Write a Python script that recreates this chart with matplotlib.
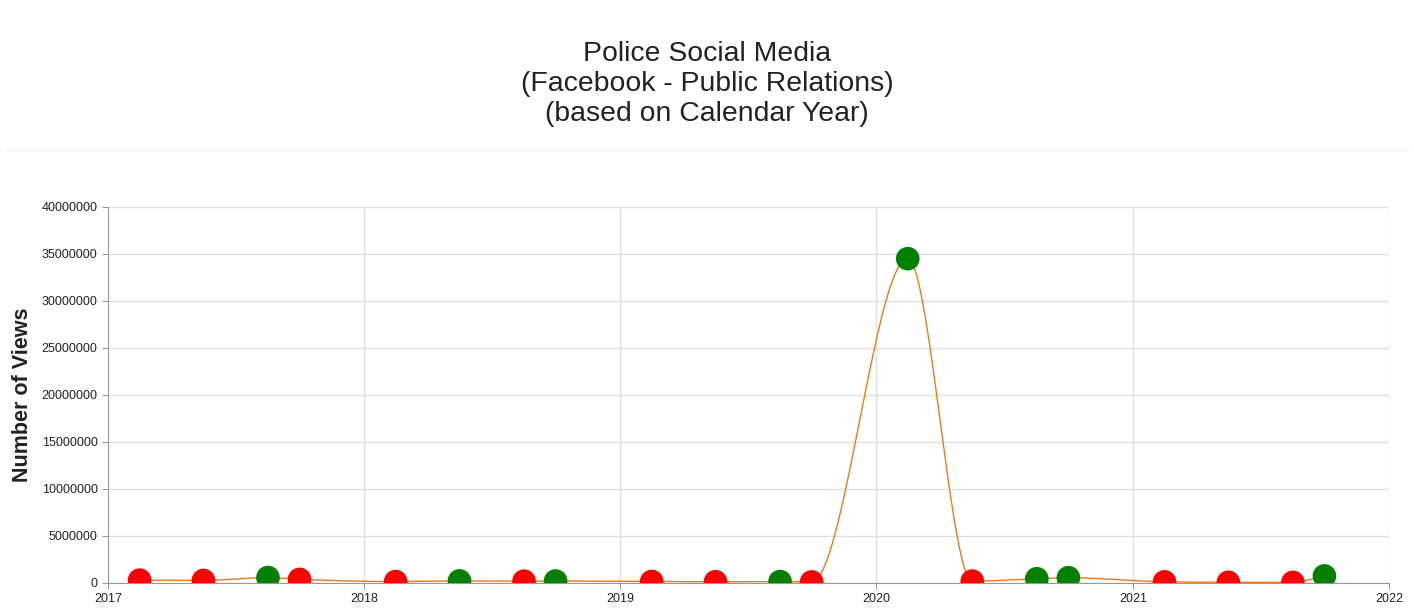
import datetime as dt

import matplotlib
matplotlib.use('Agg')
import matplotlib.pyplot as plt
import matplotlib.dates as mdates
import numpy as np

plt.rcParams['font.family'] = ['Liberation Sans', 'DejaVu Sans']

# quarterly points (date of each point) and number of views
dates = ['2017-02-15', '2017-05-17', '2017-08-17', '2017-10-01',
         '2018-02-15', '2018-05-17', '2018-08-17', '2018-10-01',
         '2019-02-15', '2019-05-17', '2019-08-17', '2019-10-01',
         '2020-02-15', '2020-05-17', '2020-08-17', '2020-10-01',
         '2021-02-15', '2021-05-17', '2021-08-17', '2021-10-01']
views = [300000, 270000, 580000, 380000,
         150000, 220000, 190000, 210000,
         160000, 130000, 150000, 110000,
         34500000, 200000, 450000, 560000,
         120000, 70000, 60000, 750000]
point_colors = ['red', 'red', 'green', 'red',
                'red', 'green', 'red', 'green',
                'red', 'red', 'green', 'red',
                'green', 'red', 'green', 'green',
                'red', 'red', 'red', 'green']

title = 'Police Social Media\n(Facebook - Public Relations)\n(based on Calendar Year)'
ylabel = 'Number of Views'


def monotone_curve(x, y, n=40):
    # Fritsch-Carlson monotone cubic, only used to draw the smooth line
    x = np.asarray(x, float)
    y = np.asarray(y, float)
    h = np.diff(x)
    d = np.diff(y) / h
    m = np.zeros_like(y)
    m[0], m[-1] = d[0], d[-1]
    for i in range(1, len(y) - 1):
        if d[i - 1] * d[i] <= 0:
            m[i] = 0
        else:
            w1 = 2 * h[i] + h[i - 1]
            w2 = h[i] + 2 * h[i - 1]
            m[i] = (w1 + w2) / (w1 / d[i - 1] + w2 / d[i])
    xs, ys = [], []
    for i in range(len(h)):
        t = np.linspace(0, 1, n)
        h00 = 2 * t**3 - 3 * t**2 + 1
        h10 = t**3 - 2 * t**2 + t
        h01 = -2 * t**3 + 3 * t**2
        h11 = t**3 - t**2
        xs.append(x[i] + t * h[i])
        ys.append(h00 * y[i] + h10 * h[i] * m[i] + h01 * y[i + 1] + h11 * h[i] * m[i + 1])
    return np.concatenate(xs), np.concatenate(ys)


xd = [dt.datetime.strptime(d, '%Y-%m-%d') for d in dates]
xn = mdates.date2num(xd)

fig = plt.figure(figsize=(14.14, 6.16), dpi=100)
ax = fig.add_axes([0.0764, 0.0536, 0.9059, 0.6104])

cx, cy = monotone_curve(xn, views)
ax.plot(cx, cy, color='#f07818', lw=1, zorder=2)
sc = ax.scatter(xn, views, s=17**2, c=point_colors, zorder=3, linewidths=0)
sc.set_clip_on(True)

ax.set_xlim(mdates.date2num(dt.datetime(2017, 1, 1)), mdates.date2num(dt.datetime(2022, 1, 1)))
ax.set_ylim(0, 40000000)
ax.set_yticks(np.arange(0, 40000001, 5000000))
ax.yaxis.set_major_formatter(matplotlib.ticker.FuncFormatter(lambda v, p: '%d' % v))
ax.xaxis.set_major_locator(mdates.YearLocator())
ax.xaxis.set_major_formatter(mdates.DateFormatter('%Y'))

ax.grid(True, color='#e0e0e0', lw=1)
ax.set_axisbelow(True)
for s in ['top', 'right']:
    ax.spines[s].set_visible(False)
for s in ['left', 'bottom']:
    ax.spines[s].set_color('#999999')
ax.tick_params(colors='#999999', labelcolor='#222222', labelsize=9, length=4)
ax.set_ylabel(ylabel, fontsize=15.5, fontweight='bold', color='#222222', labelpad=6)

fig.text(0.5, 0.864, title, ha='center', va='center', fontsize=20.4,
         color='#222222', linespacing=1.2)
fig.add_artist(plt.Line2D([0.004, 0.996], [0.757, 0.757], color='#eeeeee', lw=1))

fig.savefig('out.png', dpi=100)
